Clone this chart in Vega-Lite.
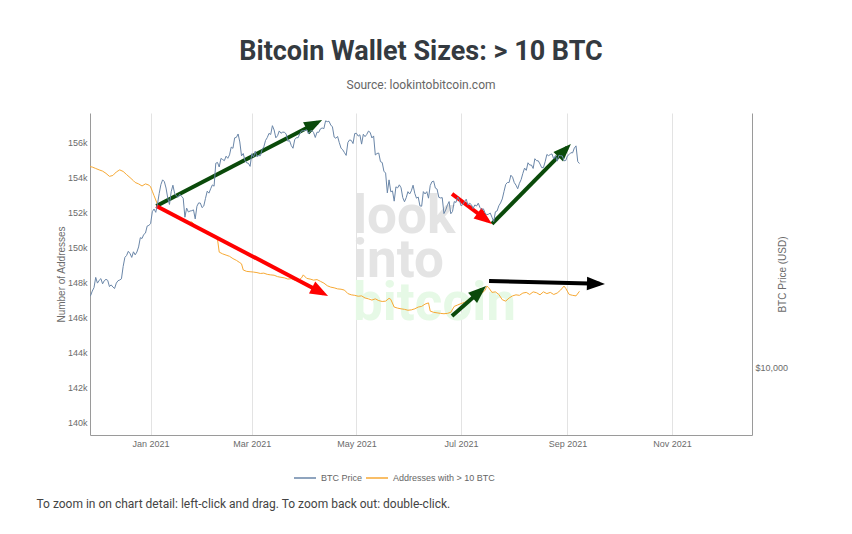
{
"$schema": "https://vega.github.io/schema/vega-lite/v6.json",
"width": 662, "height": 322,
"autosize": "none",
"padding": {"left": 90, "top": 113, "right": 100, "bottom": 99},
"background": "white",
"config": {"view": {"stroke": null}, "font": "Liberation Sans"},
"title": {"text": "Bitcoin Wallet Sizes: > 10 BTC", "subtitle": "Source: lookintobitcoin.com", "anchor": "middle", "frame": "group", "font": "Roboto", "fontSize": 27, "fontWeight": "bold", "color": "#343a40", "subtitleFont": "Roboto", "subtitleFontSize": 12, "subtitleColor": "#666666", "subtitlePadding": 14, "offset": 21},
"datasets": {
"one": [{"k": 1}],
"addr": [
{"d":"2020-11-26","a":154620},{"d":"2020-11-28","a":154580},{"d":"2020-11-30","a":154500},{"d":"2020-12-02","a":154420},{"d":"2020-12-04","a":154350},{"d":"2020-12-06","a":154220},{"d":"2020-12-08","a":154050},{"d":"2020-12-10","a":154100},{"d":"2020-12-12","a":154300},{"d":"2020-12-14","a":154420},{"d":"2020-12-16","a":154330},{"d":"2020-12-18","a":154150},{"d":"2020-12-20","a":153980},{"d":"2020-12-22","a":153800},{"d":"2020-12-23","a":153700},{"d":"2020-12-25","a":153620},{"d":"2020-12-27","a":153500},{"d":"2020-12-29","a":153620},{"d":"2020-12-31","a":153550},
{"d":"2021-01-01","a":153450},{"d":"2021-01-02","a":153200},{"d":"2021-01-03","a":152950},{"d":"2021-01-05","a":152450},{"d":"2021-01-07","a":152250},{"d":"2021-01-09","a":152050},{"d":"2021-01-11","a":152000},{"d":"2021-01-13","a":151880},{"d":"2021-01-15","a":151800},{"d":"2021-01-17","a":151720},{"d":"2021-01-19","a":151620},{"d":"2021-01-21","a":151550},{"d":"2021-01-23","a":151400},{"d":"2021-01-25","a":151450},{"d":"2021-01-27","a":151250},{"d":"2021-01-29","a":151120},{"d":"2021-01-31","a":151050},
{"d":"2021-02-02","a":150900},{"d":"2021-02-04","a":150850},{"d":"2021-02-06","a":150650},{"d":"2021-02-08","a":150550},{"d":"2021-02-09","a":150450},{"d":"2021-02-10","a":149720},{"d":"2021-02-12","a":149620},{"d":"2021-02-14","a":149550},{"d":"2021-02-16","a":149480},{"d":"2021-02-18","a":149350},{"d":"2021-02-20","a":149250},{"d":"2021-02-22","a":149120},{"d":"2021-02-23","a":149050},{"d":"2021-02-24","a":148700},{"d":"2021-02-26","a":148620},{"d":"2021-02-28","a":148600},
{"d":"2021-03-02","a":148580},{"d":"2021-03-04","a":148550},{"d":"2021-03-06","a":148500},{"d":"2021-03-08","a":148520},{"d":"2021-03-10","a":148450},{"d":"2021-03-12","a":148420},{"d":"2021-03-14","a":148400},{"d":"2021-03-16","a":148320},{"d":"2021-03-18","a":148280},{"d":"2021-03-20","a":148250},{"d":"2021-03-22","a":148180},{"d":"2021-03-24","a":148200},{"d":"2021-03-26","a":148120},{"d":"2021-03-28","a":148100},{"d":"2021-03-30","a":148250},{"d":"2021-03-31","a":148420},
{"d":"2021-04-02","a":148220},{"d":"2021-04-04","a":148180},{"d":"2021-04-06","a":148120},{"d":"2021-04-08","a":148150},{"d":"2021-04-10","a":148050},{"d":"2021-04-12","a":147950},{"d":"2021-04-14","a":147800},{"d":"2021-04-16","a":147720},{"d":"2021-04-18","a":147680},{"d":"2021-04-20","a":147620},{"d":"2021-04-22","a":147600},{"d":"2021-04-24","a":147550},{"d":"2021-04-26","a":147350},{"d":"2021-04-28","a":147280},{"d":"2021-04-30","a":147250},
{"d":"2021-05-02","a":147200},{"d":"2021-05-04","a":147220},{"d":"2021-05-06","a":147100},{"d":"2021-05-08","a":147050},{"d":"2021-05-10","a":146980},{"d":"2021-05-12","a":147050},{"d":"2021-05-14","a":146950},{"d":"2021-05-16","a":146900},{"d":"2021-05-18","a":146920},{"d":"2021-05-20","a":147080},{"d":"2021-05-21","a":147020},{"d":"2021-05-23","a":146580},{"d":"2021-05-25","a":146520},{"d":"2021-05-27","a":146480},{"d":"2021-05-29","a":146450},{"d":"2021-05-31","a":146400},
{"d":"2021-06-02","a":146420},{"d":"2021-06-04","a":146480},{"d":"2021-06-06","a":146580},{"d":"2021-06-08","a":146620},{"d":"2021-06-10","a":146750},{"d":"2021-06-12","a":146820},{"d":"2021-06-13","a":146350},{"d":"2021-06-15","a":146280},{"d":"2021-06-17","a":146250},{"d":"2021-06-19","a":146220},{"d":"2021-06-21","a":146200},{"d":"2021-06-23","a":146220},{"d":"2021-06-25","a":146280},{"d":"2021-06-27","a":146620},{"d":"2021-06-29","a":146700},
{"d":"2021-07-01","a":146780},{"d":"2021-07-03","a":146850},{"d":"2021-07-05","a":146980},{"d":"2021-07-07","a":147080},{"d":"2021-07-09","a":147120},{"d":"2021-07-11","a":147200},{"d":"2021-07-13","a":147350},{"d":"2021-07-15","a":147550},{"d":"2021-07-16","a":147780},{"d":"2021-07-17","a":147700},{"d":"2021-07-19","a":147420},{"d":"2021-07-21","a":147450},{"d":"2021-07-23","a":147300},{"d":"2021-07-25","a":147000},{"d":"2021-07-27","a":146920},{"d":"2021-07-29","a":147100},{"d":"2021-07-31","a":147220},
{"d":"2021-08-02","a":147280},{"d":"2021-08-04","a":147250},{"d":"2021-08-06","a":147380},{"d":"2021-08-08","a":147420},{"d":"2021-08-10","a":147300},{"d":"2021-08-12","a":147450},{"d":"2021-08-14","a":147400},{"d":"2021-08-16","a":147280},{"d":"2021-08-18","a":147450},{"d":"2021-08-20","a":147350},{"d":"2021-08-22","a":147420},{"d":"2021-08-24","a":147300},{"d":"2021-08-26","a":147380},{"d":"2021-08-28","a":147550},{"d":"2021-08-30","a":147780},{"d":"2021-08-31","a":147650},
{"d":"2021-09-02","a":147300},{"d":"2021-09-04","a":147250},{"d":"2021-09-06","a":147220},{"d":"2021-09-08","a":147480}
],
"price": [
{"d":"2020-11-26","p":17130},{"d":"2020-11-27","p":17108},{"d":"2020-11-28","p":17718},{"d":"2020-11-29","p":18177},{"d":"2020-11-30","p":19625},
{"d":"2020-12-01","p":18802},{"d":"2020-12-02","p":19201},{"d":"2020-12-03","p":19445},{"d":"2020-12-04","p":18699},{"d":"2020-12-05","p":19154},{"d":"2020-12-06","p":19345},{"d":"2020-12-07","p":19191},{"d":"2020-12-08","p":18321},{"d":"2020-12-09","p":18553},{"d":"2020-12-10","p":18264},{"d":"2020-12-11","p":18058},{"d":"2020-12-12","p":18803},{"d":"2020-12-13","p":19142},{"d":"2020-12-14","p":19246},{"d":"2020-12-15","p":19417},{"d":"2020-12-16","p":21310},{"d":"2020-12-17","p":22805},{"d":"2020-12-18","p":23137},{"d":"2020-12-19","p":23869},{"d":"2020-12-20","p":23477},{"d":"2020-12-21","p":22803},{"d":"2020-12-22","p":23783},{"d":"2020-12-23","p":23241},{"d":"2020-12-24","p":23735},{"d":"2020-12-25","p":24665},{"d":"2020-12-26","p":26437},{"d":"2020-12-27","p":26273},{"d":"2020-12-28","p":27084},{"d":"2020-12-29","p":27362},{"d":"2020-12-30","p":28841},{"d":"2020-12-31","p":29001},
{"d":"2021-01-01","p":29374},{"d":"2021-01-02","p":32127},{"d":"2021-01-03","p":32782},{"d":"2021-01-04","p":31972},{"d":"2021-01-05","p":33992},{"d":"2021-01-06","p":36824},{"d":"2021-01-07","p":39371},{"d":"2021-01-08","p":40797},{"d":"2021-01-09","p":40254},{"d":"2021-01-10","p":38356},{"d":"2021-01-11","p":35566},{"d":"2021-01-12","p":33922},{"d":"2021-01-13","p":37316},{"d":"2021-01-14","p":39187},{"d":"2021-01-15","p":36825},{"d":"2021-01-16","p":36178},{"d":"2021-01-17","p":35792},{"d":"2021-01-18","p":36630},{"d":"2021-01-19","p":36069},{"d":"2021-01-20","p":35548},{"d":"2021-01-21","p":30826},{"d":"2021-01-22","p":33005},{"d":"2021-01-23","p":32067},{"d":"2021-01-24","p":32289},{"d":"2021-01-25","p":32367},{"d":"2021-01-26","p":32569},{"d":"2021-01-27","p":30432},{"d":"2021-01-28","p":33467},{"d":"2021-01-29","p":34316},{"d":"2021-01-30","p":34269},{"d":"2021-01-31","p":33115},
{"d":"2021-02-01","p":33537},{"d":"2021-02-02","p":35510},{"d":"2021-02-03","p":37473},{"d":"2021-02-04","p":36926},{"d":"2021-02-05","p":38144},{"d":"2021-02-06","p":39266},{"d":"2021-02-07","p":38903},{"d":"2021-02-08","p":46196},{"d":"2021-02-09","p":46481},{"d":"2021-02-10","p":44918},{"d":"2021-02-11","p":47909},{"d":"2021-02-12","p":47504},{"d":"2021-02-13","p":47105},{"d":"2021-02-14","p":48717},{"d":"2021-02-15","p":47945},{"d":"2021-02-16","p":49199},{"d":"2021-02-17","p":52149},{"d":"2021-02-18","p":51679},{"d":"2021-02-19","p":55888},{"d":"2021-02-20","p":56099},{"d":"2021-02-21","p":57539},{"d":"2021-02-22","p":54207},{"d":"2021-02-23","p":48825},{"d":"2021-02-24","p":49705},{"d":"2021-02-25","p":47093},{"d":"2021-02-26","p":46339},{"d":"2021-02-27","p":46188},{"d":"2021-02-28","p":45137},
{"d":"2021-03-01","p":49631},{"d":"2021-03-02","p":48378},{"d":"2021-03-03","p":50538},{"d":"2021-03-04","p":48561},{"d":"2021-03-05","p":48927},{"d":"2021-03-06","p":48912},{"d":"2021-03-07","p":51206},{"d":"2021-03-08","p":52246},{"d":"2021-03-09","p":54824},{"d":"2021-03-10","p":56008},{"d":"2021-03-11","p":57805},{"d":"2021-03-12","p":57332},{"d":"2021-03-13","p":61243},{"d":"2021-03-14","p":59302},{"d":"2021-03-15","p":55907},{"d":"2021-03-16","p":56804},{"d":"2021-03-17","p":58870},{"d":"2021-03-18","p":57858},{"d":"2021-03-19","p":58346},{"d":"2021-03-20","p":58313},{"d":"2021-03-21","p":57524},{"d":"2021-03-22","p":54529},{"d":"2021-03-23","p":54738},{"d":"2021-03-24","p":52774},{"d":"2021-03-25","p":51704},{"d":"2021-03-26","p":55137},{"d":"2021-03-27","p":55974},{"d":"2021-03-28","p":55948},{"d":"2021-03-29","p":57751},{"d":"2021-03-30","p":58918},{"d":"2021-03-31","p":58918},
{"d":"2021-04-01","p":59095},{"d":"2021-04-02","p":59384},{"d":"2021-04-03","p":57604},{"d":"2021-04-04","p":58758},{"d":"2021-04-05","p":59057},{"d":"2021-04-06","p":58192},{"d":"2021-04-07","p":56048},{"d":"2021-04-08","p":58323},{"d":"2021-04-09","p":58245},{"d":"2021-04-10","p":59793},{"d":"2021-04-11","p":60204},{"d":"2021-04-12","p":59894},{"d":"2021-04-13","p":63503},{"d":"2021-04-14","p":63110},{"d":"2021-04-15","p":63314},{"d":"2021-04-16","p":61572},{"d":"2021-04-17","p":60683},{"d":"2021-04-18","p":56216},{"d":"2021-04-19","p":55724},{"d":"2021-04-20","p":56473},{"d":"2021-04-21","p":53906},{"d":"2021-04-22","p":51762},{"d":"2021-04-23","p":51093},{"d":"2021-04-24","p":50050},{"d":"2021-04-25","p":49004},{"d":"2021-04-26","p":54021},{"d":"2021-04-27","p":55033},{"d":"2021-04-28","p":54824},{"d":"2021-04-29","p":53555},{"d":"2021-04-30","p":57750},
{"d":"2021-05-01","p":57828},{"d":"2021-05-02","p":56631},{"d":"2021-05-03","p":57200},{"d":"2021-05-04","p":53333},{"d":"2021-05-05","p":57424},{"d":"2021-05-06","p":56397},{"d":"2021-05-07","p":57356},{"d":"2021-05-08","p":58803},{"d":"2021-05-09","p":58232},{"d":"2021-05-10","p":55859},{"d":"2021-05-11","p":56704},{"d":"2021-05-12","p":49150},{"d":"2021-05-13","p":49716},{"d":"2021-05-14","p":49880},{"d":"2021-05-15","p":46760},{"d":"2021-05-16","p":46456},{"d":"2021-05-17","p":43537},{"d":"2021-05-18","p":42909},{"d":"2021-05-19","p":37002},{"d":"2021-05-20","p":40783},{"d":"2021-05-21","p":37304},{"d":"2021-05-22","p":37536},{"d":"2021-05-23","p":34770},{"d":"2021-05-24","p":38705},{"d":"2021-05-25","p":38403},{"d":"2021-05-26","p":39294},{"d":"2021-05-27","p":38437},{"d":"2021-05-28","p":35698},{"d":"2021-05-29","p":34616},{"d":"2021-05-30","p":35678},{"d":"2021-05-31","p":37333},
{"d":"2021-06-01","p":36685},{"d":"2021-06-02","p":37575},{"d":"2021-06-03","p":39188},{"d":"2021-06-04","p":36852},{"d":"2021-06-05","p":35551},{"d":"2021-06-06","p":35862},{"d":"2021-06-07","p":33561},{"d":"2021-06-08","p":33472},{"d":"2021-06-09","p":37346},{"d":"2021-06-10","p":36702},{"d":"2021-06-11","p":37334},{"d":"2021-06-12","p":35552},{"d":"2021-06-13","p":39097},{"d":"2021-06-14","p":40218},{"d":"2021-06-15","p":40406},{"d":"2021-06-16","p":38348},{"d":"2021-06-17","p":38053},{"d":"2021-06-18","p":35787},{"d":"2021-06-19","p":35615},{"d":"2021-06-20","p":35698},{"d":"2021-06-21","p":31676},{"d":"2021-06-22","p":32505},{"d":"2021-06-23","p":33723},{"d":"2021-06-24","p":34662},{"d":"2021-06-25","p":31637},{"d":"2021-06-26","p":32186},{"d":"2021-06-27","p":34649},{"d":"2021-06-28","p":34434},{"d":"2021-06-29","p":35867},{"d":"2021-06-30","p":35041},
{"d":"2021-07-01","p":33572},{"d":"2021-07-02","p":33897},{"d":"2021-07-03","p":34668},{"d":"2021-07-04","p":35287},{"d":"2021-07-05","p":33746},{"d":"2021-07-06","p":34235},{"d":"2021-07-07","p":33855},{"d":"2021-07-08","p":32877},{"d":"2021-07-09","p":33798},{"d":"2021-07-10","p":33520},{"d":"2021-07-11","p":34240},{"d":"2021-07-12","p":33155},{"d":"2021-07-13","p":32702},{"d":"2021-07-14","p":32822},{"d":"2021-07-15","p":31780},{"d":"2021-07-16","p":31421},{"d":"2021-07-17","p":31533},{"d":"2021-07-18","p":31796},{"d":"2021-07-19","p":30817},{"d":"2021-07-20","p":29807},{"d":"2021-07-21","p":32110},{"d":"2021-07-22","p":32313},{"d":"2021-07-23","p":33581},{"d":"2021-07-24","p":34292},{"d":"2021-07-25","p":35350},{"d":"2021-07-26","p":37337},{"d":"2021-07-27","p":39406},{"d":"2021-07-28","p":39995},{"d":"2021-07-29","p":40008},{"d":"2021-07-30","p":42235},{"d":"2021-07-31","p":41626},
{"d":"2021-08-01","p":39974},{"d":"2021-08-02","p":39201},{"d":"2021-08-03","p":38152},{"d":"2021-08-04","p":39747},{"d":"2021-08-05","p":40869},{"d":"2021-08-06","p":42816},{"d":"2021-08-07","p":44555},{"d":"2021-08-08","p":43798},{"d":"2021-08-09","p":46365},{"d":"2021-08-10","p":45585},{"d":"2021-08-11","p":45593},{"d":"2021-08-12","p":44428},{"d":"2021-08-13","p":47793},{"d":"2021-08-14","p":47096},{"d":"2021-08-15","p":47047},{"d":"2021-08-16","p":45937},{"d":"2021-08-17","p":44686},{"d":"2021-08-18","p":44741},{"d":"2021-08-19","p":46723},{"d":"2021-08-20","p":49339},{"d":"2021-08-21","p":48905},{"d":"2021-08-22","p":49321},{"d":"2021-08-23","p":49546},{"d":"2021-08-24","p":47706},{"d":"2021-08-25","p":48960},{"d":"2021-08-26","p":46942},{"d":"2021-08-27","p":49058},{"d":"2021-08-28","p":48902},{"d":"2021-08-29","p":48830},{"d":"2021-08-30","p":47054},{"d":"2021-08-31","p":47167},
{"d":"2021-09-01","p":48848},{"d":"2021-09-02","p":49327},{"d":"2021-09-03","p":50025},{"d":"2021-09-04","p":49944},{"d":"2021-09-05","p":51753},{"d":"2021-09-06","p":52633},{"d":"2021-09-07","p":46811},{"d":"2021-09-08","p":46091}
],
"arrows": [
{"id":"a1","trend":"up","x1":"2021-01-04T08:00:00Z","y1":152360,"x2":"2021-04-08T05:00:00Z","y2":157131},
{"id":"a2","trend":"down","x1":"2021-01-04T08:00:00Z","y1":152360,"x2":"2021-04-11T16:00:00Z","y2":147360},
{"id":"a3","trend":"down","x1":"2021-06-25T17:00:00Z","y1":153046,"x2":"2021-07-16T12:00:00Z","y2":151514},
{"id":"a4","trend":"up","x1":"2021-07-19T00:00:00Z","y1":151331,"x2":"2021-08-31T19:00:00Z","y2":155686},
{"id":"a5","trend":"up","x1":"2021-06-25T17:00:00Z","y1":146074,"x2":"2021-07-13T05:00:00Z","y2":147583},
{"id":"a6","trend":"flat","x1":"2021-07-17T07:00:00Z","y1":148074,"x2":"2021-09-19T17:00:00Z","y2":147909}
]
},
"layer": [
{
"layer": [
{"data": {"name": "one"},
 "mark": {"type": "text", "font": "Roboto", "fontSize": 53, "fontWeight": "bold", "align": "left", "baseline": "alphabetic", "color": "#e4e4e4"},
 "encoding": {"x": {"datum": {"year": 2021, "month": 4, "date": 29, "utc": true}, "type": "temporal"}, "y": {"datum": 150790, "type": "quantitative"}, "text": {"value": "look"}}},
{"data": {"name": "one"},
 "mark": {"type": "text", "font": "Roboto", "fontSize": 53, "fontWeight": "bold", "align": "left", "baseline": "alphabetic", "color": "#e4e4e4"},
 "encoding": {"x": {"datum": {"year": 2021, "month": 4, "date": 29, "utc": true}, "type": "temporal"}, "y": {"datum": 148275, "type": "quantitative"}, "text": {"value": "into"}}},
{"data": {"name": "one"},
 "mark": {"type": "text", "font": "Roboto", "fontSize": 53, "fontWeight": "bold", "align": "left", "baseline": "alphabetic", "color": "#e6f9e6"},
 "encoding": {"x": {"datum": {"year": 2021, "month": 4, "date": 29, "utc": true}, "type": "temporal"}, "y": {"datum": 145846, "type": "quantitative"}, "text": {"value": "bitcoin"}}},
{"data": {"name": "addr"},
 "mark": {"type": "line", "strokeWidth": 1, "clip": true},
 "encoding": {
  "x": {"field": "d", "type": "temporal",
        "scale": {"type": "utc", "domain": ["2020-11-26T16:00:00Z", "2021-12-17T14:00:00Z"], "nice": false},
        "axis": {"values": [{"year":2021,"month":1,"date":1,"utc":true},{"year":2021,"month":3,"date":1,"utc":true},{"year":2021,"month":5,"date":1,"utc":true},{"year":2021,"month":7,"date":1,"utc":true},{"year":2021,"month":9,"date":1,"utc":true},{"year":2021,"month":11,"date":1,"utc":true}],
                 "format": "%b %Y", "ticks": false, "grid": true, "gridColor": "#e3e3e3", "gridWidth": 1,
                 "domainColor": "#9a9a9a", "labelFont": "Liberation Sans", "labelFontSize": 9, "labelColor": "#6b6b6b", "labelPadding": 4,
                 "title": "To zoom in on chart detail: left-click and drag. To zoom back out: double-click.",
                 "titleX": -54, "titleY": 72, "titleAlign": "left", "titleBaseline": "alphabetic", "titleFont": "Roboto", "titleFontSize": 12, "titleFontWeight": "normal", "titleColor": "#444444"}},
  "y": {"field": "a", "type": "quantitative",
        "scale": {"domain": [139270, 157670], "nice": false, "zero": false},
        "axis": {"orient": "left", "values": [140000,142000,144000,146000,148000,150000,152000,154000,156000], "format": "~s", "ticks": false, "grid": false,
                 "domainColor": "#9a9a9a", "labelFont": "Liberation Sans", "labelFontSize": 9, "labelColor": "#6b6b6b", "labelPadding": 3,
                 "title": "Number of Addresses", "titleX": -29, "titleY": 161, "titleAngle": 270, "titleAlign": "center", "titleBaseline": "middle",
                 "titleFont": "Liberation Sans", "titleFontSize": 10, "titleFontWeight": "normal", "titleColor": "#6b6b6b"}},
  "color": {"datum": "Addresses with > 10 BTC", "type": "nominal",
            "scale": {"domain": ["BTC Price", "Addresses with > 10 BTC"], "range": ["#6a86a8", "#f7a934"]},
            "legend": {"orient": "none", "legendX": 203, "legendY": 353, "direction": "horizontal", "title": null,
                       "symbolType": "stroke", "symbolSize": 484, "symbolStrokeWidth": 1.5, "labelFont": "Liberation Sans", "labelFontSize": 9,
                       "labelColor": "#666666", "labelOffset": 4, "columnPadding": 0}}
 }},
{"data": {"name": "arrows"}, "transform": [{"filter": "datum.trend === 'up'"}],
 "mark": {"type": "rule", "strokeWidth": 4, "strokeCap": "butt", "color": "#0a4a0a"},
 "encoding": {"x": {"field": "x1", "type": "temporal"}, "y": {"field": "y1", "type": "quantitative"}, "x2": {"field": "x2"}, "y2": {"field": "y2"}}},
{"data": {"name": "arrows"}, "transform": [{"filter": "datum.trend === 'down'"}],
 "mark": {"type": "rule", "strokeWidth": 4, "strokeCap": "butt", "color": "#ff0000"},
 "encoding": {"x": {"field": "x1", "type": "temporal"}, "y": {"field": "y1", "type": "quantitative"}, "x2": {"field": "x2"}, "y2": {"field": "y2"}}},
{"data": {"name": "arrows"}, "transform": [{"filter": "datum.trend === 'flat'"}],
 "mark": {"type": "rule", "strokeWidth": 4, "strokeCap": "butt", "color": "#000000"},
 "encoding": {"x": {"field": "x1", "type": "temporal"}, "y": {"field": "y1", "type": "quantitative"}, "x2": {"field": "x2"}, "y2": {"field": "y2"}}},
{"data": {"name": "arrows"}, "transform": [{"filter": "datum.id === 'a1'"}],
 "mark": {"type": "point", "shape": "M0.6,0L-1.4,-0.75L-1.4,0.75Z", "filled": true, "size": 324, "angle": -27.4, "color": "#0a4a0a", "opacity": 1, "strokeWidth": 0},
 "encoding": {"x": {"field": "x2", "type": "temporal"}, "y": {"field": "y2", "type": "quantitative"}}},
{"data": {"name": "arrows"}, "transform": [{"filter": "datum.id === 'a2'"}],
 "mark": {"type": "point", "shape": "M0.6,0L-1.4,-0.75L-1.4,0.75Z", "filled": true, "size": 324, "angle": 27.6, "color": "#ff0000", "opacity": 1, "strokeWidth": 0},
 "encoding": {"x": {"field": "x2", "type": "temporal"}, "y": {"field": "y2", "type": "quantitative"}}},
{"data": {"name": "arrows"}, "transform": [{"filter": "datum.id === 'a3'"}],
 "mark": {"type": "point", "shape": "M0.6,0L-1.4,-0.75L-1.4,0.75Z", "filled": true, "size": 324, "angle": 36.9, "color": "#ff0000", "opacity": 1, "strokeWidth": 0},
 "encoding": {"x": {"field": "x2", "type": "temporal"}, "y": {"field": "y2", "type": "quantitative"}}},
{"data": {"name": "arrows"}, "transform": [{"filter": "datum.id === 'a4'"}],
 "mark": {"type": "point", "shape": "M0.6,0L-1.4,-0.75L-1.4,0.75Z", "filled": true, "size": 324, "angle": -45.4, "color": "#0a4a0a", "opacity": 1, "strokeWidth": 0},
 "encoding": {"x": {"field": "x2", "type": "temporal"}, "y": {"field": "y2", "type": "quantitative"}}},
{"data": {"name": "arrows"}, "transform": [{"filter": "datum.id === 'a5'"}],
 "mark": {"type": "point", "shape": "M0.6,0L-1.4,-0.75L-1.4,0.75Z", "filled": true, "size": 324, "angle": -41.4, "color": "#0a4a0a", "opacity": 1, "strokeWidth": 0},
 "encoding": {"x": {"field": "x2", "type": "temporal"}, "y": {"field": "y2", "type": "quantitative"}}},
{"data": {"name": "arrows"}, "transform": [{"filter": "datum.id === 'a6'"}],
 "mark": {"type": "point", "shape": "M0.6,0L-1.4,-0.75L-1.4,0.75Z", "filled": true, "size": 324, "angle": 1.5, "color": "#000000", "opacity": 1, "strokeWidth": 0},
 "encoding": {"x": {"field": "x2", "type": "temporal"}, "y": {"field": "y2", "type": "quantitative"}}}
]
},
{"data": {"name": "price"},
 "mark": {"type": "line", "strokeWidth": 1, "clip": true},
 "encoding": {
  "x": {"field": "d", "type": "temporal"},
  "y": {"field": "p", "type": "quantitative",
        "scale": {"type": "log", "domain": [6018, 67350], "nice": false, "zero": false},
        "axis": {"orient": "right", "values": [10000], "format": "$,.0f", "ticks": false, "grid": false,
                 "domainColor": "#9a9a9a", "labelFont": "Liberation Sans", "labelFontSize": 9, "labelColor": "#6b6b6b", "labelPadding": 3,
                 "title": "BTC Price (USD)", "titleX": 30, "titleY": 161, "titleAngle": 270, "titleAlign": "center", "titleBaseline": "middle",
                 "titleFont": "Liberation Sans", "titleFontSize": 10, "titleFontWeight": "normal", "titleColor": "#6b6b6b"}},
  "color": {"datum": "BTC Price", "type": "nominal"}
 }}
],
"resolve": {"scale": {"y": "independent"}, "axis": {"y": "independent"}}
}
